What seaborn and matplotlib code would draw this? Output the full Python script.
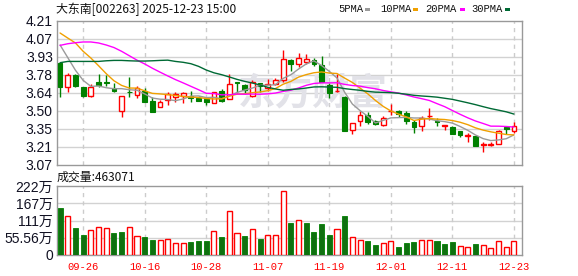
import numpy as np
import pandas as pd
import matplotlib
matplotlib.use('Agg')
import matplotlib.pyplot as plt
from matplotlib.patches import Rectangle
import seaborn as sns

# ---------------- data ----------------
title = "大东南[002263] 2025-12-23 15:00"
vol_title = "成交量:463071"

opens = [3.875, 3.687, 3.785, 3.687, 3.613, 3.730, 3.730, 3.679, 3.497, 3.650,
         3.624, 3.658, 3.574, 3.529, 3.582, 3.606, 3.619, 3.619, 3.600, 3.592,
         3.558, 3.656, 3.595, 3.730, 3.706, 3.619, 3.722, 3.677, 3.711, 3.745,
         3.904, 3.867, 3.883, 3.904, 3.859, 3.706, 3.652, 3.611, 3.347, 3.418,
         3.463, 3.418, 3.384, 3.497, 3.495, 3.484, 3.413, 3.381, 3.455, 3.421,
         3.379, 3.371, 3.342, 3.298, 3.302, 3.232, 3.230, 3.236, 3.368, 3.336]
highs = [3.880, 3.798, 3.793, 3.690, 3.711, 3.790, 3.785, 3.719, 3.616, 3.767,
         3.693, 3.679, 3.608, 3.587, 3.645, 3.650, 3.645, 3.653, 3.619, 3.608,
         3.645, 3.671, 3.788, 3.730, 3.711, 3.745, 3.722, 3.750, 3.761, 3.983,
         3.909, 3.957, 3.951, 3.917, 3.933, 3.719, 3.790, 3.616, 3.402, 3.497,
         3.487, 3.426, 3.455, 3.553, 3.503, 3.495, 3.424, 3.460, 3.521, 3.442,
         3.389, 3.381, 3.342, 3.323, 3.302, 3.255, 3.255, 3.350, 3.368, 3.413]
lows = [3.605, 3.645, 3.685, 3.605, 3.605, 3.685, 3.698, 3.650, 3.447, 3.608,
        3.598, 3.571, 3.487, 3.529, 3.545, 3.566, 3.561, 3.566, 3.574, 3.542,
        3.558, 3.571, 3.595, 3.640, 3.635, 3.611, 3.650, 3.659, 3.703, 3.730,
        3.811, 3.846, 3.872, 3.851, 3.724, 3.603, 3.645, 3.336, 3.313, 3.381,
        3.394, 3.386, 3.376, 3.468, 3.450, 3.394, 3.323, 3.342, 3.426, 3.381,
        3.344, 3.313, 3.294, 3.255, 3.223, 3.170, 3.218, 3.236, 3.318, 3.323]
closes = [3.685, 3.785, 3.693, 3.613, 3.687, 3.700, 3.716, 3.653, 3.616, 3.645,
          3.679, 3.571, 3.489, 3.571, 3.632, 3.634, 3.637, 3.603, 3.579, 3.566,
          3.645, 3.579, 3.711, 3.720, 3.661, 3.724, 3.693, 3.708, 3.745, 3.909,
          3.867, 3.920, 3.909, 3.867, 3.724, 3.637, 3.657, 3.342, 3.402, 3.463,
          3.413, 3.394, 3.444, 3.501, 3.474, 3.421, 3.371, 3.444, 3.460, 3.408,
          3.384, 3.313, 3.310, 3.308, 3.223, 3.240, 3.236, 3.336, 3.355, 3.376]

# volume in units of 万 (10k)
volumes = [151, 125, 87, 64.5, 79.5, 89, 86, 71, 74, 89,
           60, 58, 48, 47.5, 50.6, 37.6, 37.6, 42, 45, 45,
           76, 58, 141, 70, 61, 83, 51.5, 63.5, 63.5, 205,
           103, 112, 103, 74, 100, 64.5, 83, 125.6, 57, 48,
           45, 32, 38.6, 45, 25.8, 38.6, 42, 48, 48, 45,
           35.4, 42, 28, 25, 35.4, 31, 21.6, 45, 25, 46.3]
vol_up = [0, 1, 0, 0, 1, 1, 1, 0, 0, 1,
          1, 0, 0, 1, 1, 1, 1, 0, 0, 0,
          1, 0, 1, 1, 0, 1, 0, 1, 1, 1,
          0, 1, 0, 0, 0, 0, 1, 0, 1, 1,
          0, 0, 1, 1, 0, 0, 0, 1, 1, 0,
          0, 0, 1, 1, 0, 1, 1, 1, 1, 1]

# moving-average values before a full window of visible closes exists
ma5_head = [4.02, 3.92, 3.82, 3.74]
ma10_head = [4.115, 4.075, 4.036, 3.97, 3.917, 3.856, 3.793, 3.737, 3.70]
ma20_head = [4.017, 4.03, 4.038, 4.044, 4.044, 4.036, 4.02, 4.0, 3.97, 3.935,
             3.90, 3.87, 3.836, 3.805, 3.775, 3.746, 3.72, 3.693, 3.666]
ma30_head = [3.88, 3.89, 3.89, 3.89, 3.89, 3.89, 3.895, 3.898, 3.898, 3.895,
             3.893, 3.893, 3.895, 3.898, 3.90, 3.89, 3.883, 3.872, 3.851, 3.822,
             3.80, 3.785, 3.767, 3.748, 3.732, 3.719, 3.703, 3.685, 3.672]

tick_idx = [3, 11, 19, 27, 35, 43, 51, 59]
tick_labels = ['09-26', '10-16', '10-28', '11-07', '11-19', '12-01', '12-11', '12-23']

price_ticks = [3.07, 3.2125, 3.355, 3.4975, 3.64, 3.7825, 3.925, 4.0675, 4.21]
price_labels = ['3.07', '3.21', '3.35', '3.50', '3.64', '3.78', '3.93', '4.07', '4.21']
vol_ticks = [0, 55.56, 111.12, 166.68, 222.24]
vol_labels = ['0', '55.56万', '111万', '167万', '222万']

ma_names = ['5PMA', '10PMA', '20PMA', '30PMA']
ma_colors = ['#9a9a9a', '#f0a000', '#ff00ff', '#006a35']

# ---------------- build ----------------
sns.set_theme(style='white')
plt.rcParams['font.family'] = ['Liberation Sans', 'Noto Sans CJK SC', 'DejaVu Sans']

RED = '#ff0000'
GREEN = '#008000'
GRID = '#d2d2d2'
FRAME = '#999999'

W, H = 578, 276
fig = plt.figure(figsize=(W / 100, H / 100), dpi=100)
fig.patch.set_facecolor('white')
ax = fig.add_axes([57 / W, (H - 165) / H, 465 / W, 144 / H])
axv = fig.add_axes([57 / W, (H - 255) / H, 465 / W, 69 / H])

n = len(closes)
idx = np.arange(n)
o = np.array(opens); c = np.array(closes); hi = np.array(highs); lo = np.array(lows)

cl = pd.Series(closes)
mas = {}
for name, head, win in zip(ma_names, [ma5_head, ma10_head, ma20_head, ma30_head], [5, 10, 20, 30]):
    roll = cl.rolling(win).mean().to_numpy()
    mas[name] = np.concatenate([np.array(head), roll[len(head):]])

df_ma = pd.concat([pd.DataFrame({'idx': idx, 'val': mas[nm], 'ma': nm}) for nm in ma_names])

# candles
up = c >= o
body_lo = np.minimum(o, c)
body_hi = np.maximum(o, c)
cols = np.where(up, RED, GREEN)
ax.vlines(idx, body_hi, hi, colors=cols, lw=1, zorder=3)
ax.vlines(idx, lo, body_lo, colors=cols, lw=1, zorder=3)
bw = 0.62
for i in range(n):
    h = max(body_hi[i] - body_lo[i], 0.004)
    if up[i]:
        ax.add_patch(Rectangle((i - bw / 2, body_lo[i]), bw, h, facecolor='white',
                               edgecolor=RED, lw=1, zorder=4))
    else:
        ax.add_patch(Rectangle((i - bw / 2, body_lo[i]), bw, h, facecolor=GREEN,
                               edgecolor=GREEN, lw=0.8, zorder=4))

sns.lineplot(data=df_ma, x='idx', y='val', hue='ma', palette=dict(zip(ma_names, ma_colors)),
             estimator=None, sort=False, legend=False, lw=1, ax=ax, zorder=5)

# volume bars
df_v = pd.DataFrame({'idx': idx, 'vol': volumes,
                     'dir': np.where(np.array(vol_up) == 1, 'up', 'down')})
sns.barplot(data=df_v, x='idx', y='vol', hue='dir', palette={'up': RED, 'down': GREEN},
            native_scale=True, dodge=False, width=0.66, errorbar=None, legend=False,
            ax=axv, zorder=3)
for p in axv.patches:
    fc = p.get_facecolor()
    if fc[0] > 0.8:
        p.set_facecolor('white')
        p.set_edgecolor(RED)
        p.set_linewidth(1)
    else:
        p.set_edgecolor(GREEN)
        p.set_linewidth(0.6)

# axes styling
for a, ticks, labels, ylim in [(ax, price_ticks, price_labels, (3.07, 4.21)),
                               (axv, vol_ticks, vol_labels, (0, 222.24))]:
    a.set_xlim(-0.4, 60.05)
    a.set_ylim(*ylim)
    a.set_facecolor('white')
    for t in ticks[1:-1]:
        a.axhline(t, color=GRID, lw=1, zorder=0.5)
    for t in tick_idx:
        a.axvline(t, color='#cccccc', lw=1, ls=(0, (3, 3)), zorder=0.5)
    a.set_yticks(ticks)
    a.set_yticklabels(labels)
    a.tick_params(axis='y', length=0, pad=3, labelsize=10, labelcolor='#111122')
    for s in a.spines.values():
        s.set_color(FRAME)
        s.set_linewidth(1)
    a.set_xlabel('')
    a.set_ylabel('')

ax.set_xticks([])
axv.set_xticks(tick_idx)
axv.set_xticklabels(tick_labels, family='Liberation Mono', fontsize=7.6, color=RED)
axv.tick_params(axis='x', length=0, pad=5)

# watermark
ax.text(0.55, 0.49, '东方财富', transform=ax.transAxes, fontsize=27, color='#e2e2e8',
        fontweight='bold', ha='center', va='center', zorder=1,
        family=['Noto Sans CJK SC'])

# titles
fig.text(56 / W, 1 - 9 / H, title, fontsize=8.6, va='center', ha='left', color='#111111',
         family=['Noto Sans CJK SC', 'DejaVu Sans'])
fig.text(57 / W, 1 - 177.5 / H, vol_title, fontsize=8.6, va='center', ha='left', color='#111111',
         family=['Noto Sans CJK SC', 'DejaVu Sans'])

# legend
leg_text_x = [338, 380, 425, 471.5]
leg_sq_x = [365, 412.5, 459.5, 505]
for nm, colr, tx, sx in zip(ma_names, ma_colors, leg_text_x, leg_sq_x):
    fig.text(tx / W, 1 - 9.5 / H, nm, fontsize=7.6, family='Liberation Mono',
             va='center', ha='left', color='#111111')
    fig.add_artist(Rectangle((sx / W, 1 - 11 / H), 5 / W, 3.5 / H, transform=fig.transFigure,
                             facecolor=colr, edgecolor='none'))

fig.savefig('out.png', dpi=100)
